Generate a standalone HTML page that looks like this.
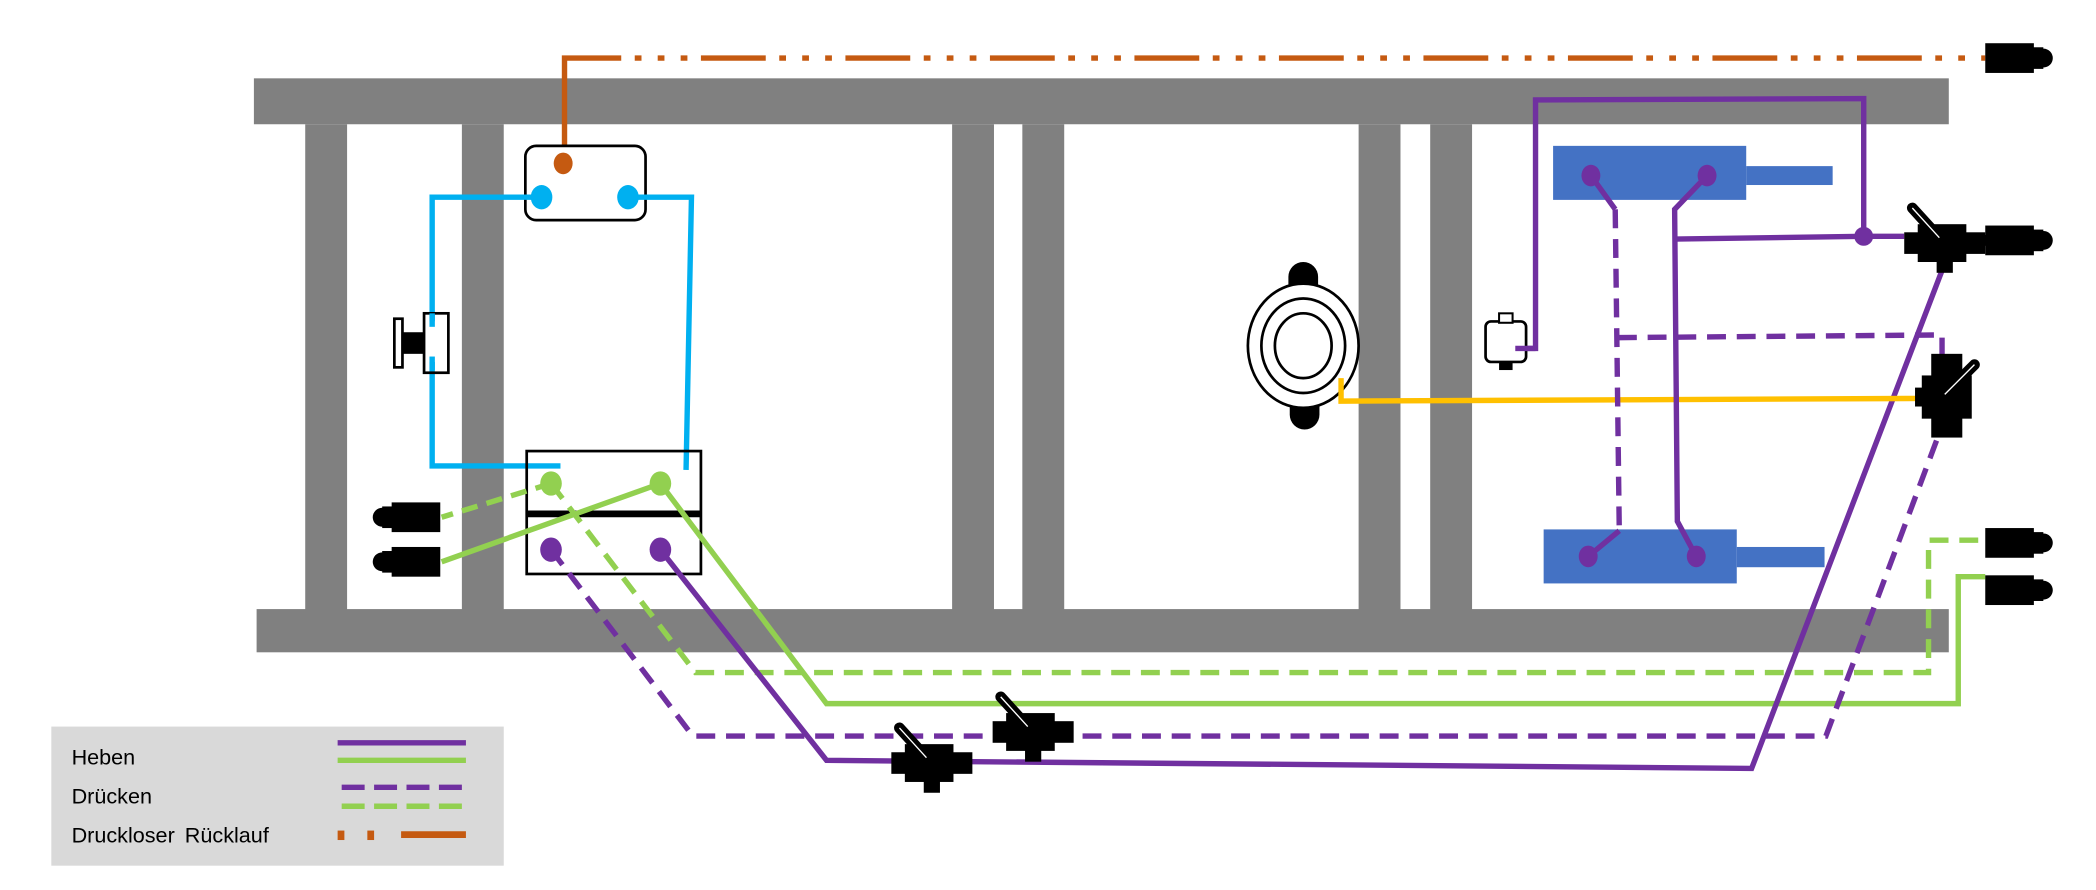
<!DOCTYPE html>
<html><head><meta charset="utf-8"><style>
html,body{margin:0;padding:0;background:#fff;}
svg{display:block;}
text{font-family:"Liberation Sans",sans-serif;}
</style></head><body>
<svg width="2096" height="890" viewBox="0 0 1552 659" xmlns="http://www.w3.org/2000/svg">
<defs>
<g id="con"><rect x="0" y="-11" width="36" height="22" fill="#000"/><rect x="34" y="-8" width="9" height="16" fill="#000"/><circle cx="43" cy="0" r="7" fill="#000"/></g>
<g id="valveH"><rect x="-30" y="-8" width="60" height="16" fill="#000"/><rect x="-20" y="-14" width="36" height="28" fill="#000"/><rect x="-6" y="12" width="12" height="10" fill="#000"/><line x1="-24" y1="-26" x2="-4" y2="-4" stroke="#000" stroke-width="8" stroke-linecap="round"/><line x1="-24" y1="-26" x2="-4" y2="-4" stroke="#fff" stroke-width="1"/></g>
</defs>
<g fill="#808080">
<rect x="188" y="58" width="1255" height="34"/>
<rect x="190" y="451" width="1253" height="32"/>
<rect x="226" y="92" width="31" height="360"/>
<rect x="342" y="92" width="31" height="360"/>
<rect x="705" y="92" width="31" height="360"/>
<rect x="757" y="92" width="31" height="360"/>
<rect x="1006" y="92" width="31" height="360"/>
<rect x="1059" y="92" width="31" height="360"/>
</g>
<polyline points="418,120 418,43 460,43" fill="none" stroke="#c55a11" stroke-width="4"/>
<line x1="460" y1="43" x2="1470" y2="43" stroke="#c55a11" stroke-width="4" stroke-dasharray="0 10 5 12 5 12 5 10 48 0" />
<use href="#con" transform="translate(1470,43)"/>
<rect x="389" y="108" width="89" height="55" rx="8" fill="#fff" stroke="#000" stroke-width="2"/>
<ellipse cx="417" cy="121" rx="7" ry="8" fill="#c55a11"/>
<polyline points="401,146 320,146 320,238" fill="none" stroke="#00b0f0" stroke-width="4"/>
<polyline points="320,268 320,345 415,345" fill="none" stroke="#00b0f0" stroke-width="4"/>
<polyline points="465,146 512,146 508,348" fill="none" stroke="#00b0f0" stroke-width="4"/>
<ellipse cx="401" cy="146" rx="8" ry="9" fill="#00b0f0"/>
<ellipse cx="465" cy="146" rx="8" ry="9" fill="#00b0f0"/>
<rect x="314" y="232" width="18" height="44" fill="none" stroke="#000" stroke-width="2"/>
<rect x="292" y="236" width="6" height="36" fill="#fff" stroke="#000" stroke-width="2"/>
<rect x="298" y="246" width="16" height="16" fill="#000"/>
<line x1="320" y1="238" x2="320" y2="268" stroke="#fff" stroke-width="4"/>
<line x1="320" y1="232" x2="320" y2="242" stroke="#00b0f0" stroke-width="4"/>
<line x1="320" y1="264" x2="320" y2="274" stroke="#00b0f0" stroke-width="4"/>
<rect x="390" y="334" width="129" height="91" fill="none" stroke="#000" stroke-width="2"/>
<rect x="390" y="378" width="129" height="5" fill="#000"/>
<line x1="408" y1="358" x2="327" y2="383" stroke="#92d050" stroke-width="4" stroke-dasharray="12 7"/>
<line x1="489" y1="358" x2="327" y2="416" stroke="#92d050" stroke-width="4"/>
<polyline points="408,358 515,498 1428,498 1428,400 1470,400" fill="none" stroke="#92d050" stroke-width="4" stroke-dasharray="14 8"/>
<polyline points="489,358 612,521 1450,521 1450,427 1470,427" fill="none" stroke="#92d050" stroke-width="4"/>
<polyline points="408,407 513,545 1352,545 1440,310" fill="none" stroke="#7030a0" stroke-width="4" stroke-dasharray="14 8"/>
<polyline points="489,407 612,563 1297,569 1440,195" fill="none" stroke="#7030a0" stroke-width="4"/>
<ellipse cx="408" cy="358" rx="8" ry="9" fill="#92d050"/>
<ellipse cx="489" cy="358" rx="8" ry="9" fill="#92d050"/>
<ellipse cx="408" cy="407" rx="8" ry="9" fill="#7030a0"/>
<ellipse cx="489" cy="407" rx="8" ry="9" fill="#7030a0"/>
<use href="#con" transform="translate(326,383) scale(-1,1)"/>
<use href="#con" transform="translate(326,416) scale(-1,1)"/>
<use href="#valveH" transform="translate(690,565)"/>
<use href="#valveH" transform="translate(765,542)"/>
<rect x="954" y="194" width="22" height="40" rx="11" fill="#000"/>
<rect x="955" y="278" width="22" height="40" rx="11" fill="#000"/>
<ellipse cx="965" cy="256" rx="41" ry="46" fill="#fff" stroke="#000" stroke-width="2"/>
<ellipse cx="965" cy="256" rx="31" ry="35" fill="none" stroke="#000" stroke-width="2"/>
<ellipse cx="965" cy="256" rx="21" ry="24" fill="none" stroke="#000" stroke-width="2"/>
<polyline points="993,280 993,297 1425,295" fill="none" stroke="#ffc000" stroke-width="4"/>
<rect x="1150" y="108" width="143" height="40" fill="#4472c4"/>
<rect x="1293" y="123" width="64" height="14" fill="#4472c4"/>
<rect x="1143" y="392" width="143" height="40" fill="#4472c4"/>
<rect x="1286" y="405" width="65" height="15" fill="#4472c4"/>
<polyline points="1178,130 1196,155" fill="none" stroke="#7030a0" stroke-width="4"/>
<line x1="1196" y1="155" x2="1199" y2="393" stroke="#7030a0" stroke-width="4" stroke-dasharray="14 8"/>
<polyline points="1199,393 1176,412" fill="none" stroke="#7030a0" stroke-width="4"/>
<polyline points="1264,130 1240,155 1242,386 1256,412" fill="none" stroke="#7030a0" stroke-width="4"/>
<polyline points="1240,177 1380,175 1410,175" fill="none" stroke="#7030a0" stroke-width="4"/>
<polyline points="1380,175 1380,73 1137,74 1137,258 1122,258" fill="none" stroke="#7030a0" stroke-width="4"/>
<polyline points="1198,250 1438,248 1438,268" fill="none" stroke="#7030a0" stroke-width="4" stroke-dasharray="14 8"/>
<circle cx="1380" cy="175" r="7" fill="#7030a0"/>
<ellipse cx="1178" cy="130" rx="7" ry="8" fill="#7030a0"/>
<ellipse cx="1264" cy="130" rx="7" ry="8" fill="#7030a0"/>
<ellipse cx="1176" cy="412" rx="7" ry="8" fill="#7030a0"/>
<ellipse cx="1256" cy="412" rx="7" ry="8" fill="#7030a0"/>
<rect x="1100" y="238" width="30" height="30" rx="4" fill="#fff" stroke="#000" stroke-width="2"/>
<rect x="1110" y="232" width="10" height="7" fill="#fff" stroke="#000" stroke-width="1.5"/>
<rect x="1110" y="268" width="10" height="6" fill="#000"/>
<line x1="1122" y1="258" x2="1137" y2="258" stroke="#7030a0" stroke-width="4"/>
<use href="#valveH" transform="translate(1440,180)"/>
<use href="#con" transform="translate(1470,178)"/>
<rect x="1466" y="174" width="8" height="8" fill="#000"/>
<g>
<rect x="1430" y="262" width="23" height="62" fill="#000"/>
<rect x="1423" y="278" width="37" height="32" fill="#000"/>
<rect x="1418" y="287" width="10" height="14" fill="#000"/>
<line x1="1440" y1="292" x2="1462" y2="270" stroke="#000" stroke-width="8" stroke-linecap="round"/>
<line x1="1440" y1="292" x2="1462" y2="270" stroke="#fff" stroke-width="1"/>
</g>
<use href="#con" transform="translate(1470,402)"/>
<use href="#con" transform="translate(1470,437)"/>
<rect x="38" y="538" width="335" height="103" fill="#d9d9d9"/>
<text x="53" y="566" font-size="16" fill="#000">Heben</text>
<text x="53" y="595" font-size="16" fill="#000">Drücken</text>
<text x="53" y="624" font-size="16" fill="#000" word-spacing="3">Druckloser Rücklauf</text>
<line x1="250" y1="550" x2="345" y2="550" stroke="#7030a0" stroke-width="4"/>
<line x1="250" y1="563" x2="345" y2="563" stroke="#92d050" stroke-width="4"/>
<line x1="253" y1="583" x2="345" y2="583" stroke="#7030a0" stroke-width="4" stroke-dasharray="17 7"/>
<line x1="253" y1="597" x2="345" y2="597" stroke="#92d050" stroke-width="4" stroke-dasharray="17 7"/>
<rect x="250" y="615" width="5" height="7" fill="#c55a11"/>
<rect x="272" y="615" width="5" height="7" fill="#c55a11"/>
<line x1="297" y1="618" x2="345" y2="618" stroke="#c55a11" stroke-width="5"/>
</svg>
</body></html>
